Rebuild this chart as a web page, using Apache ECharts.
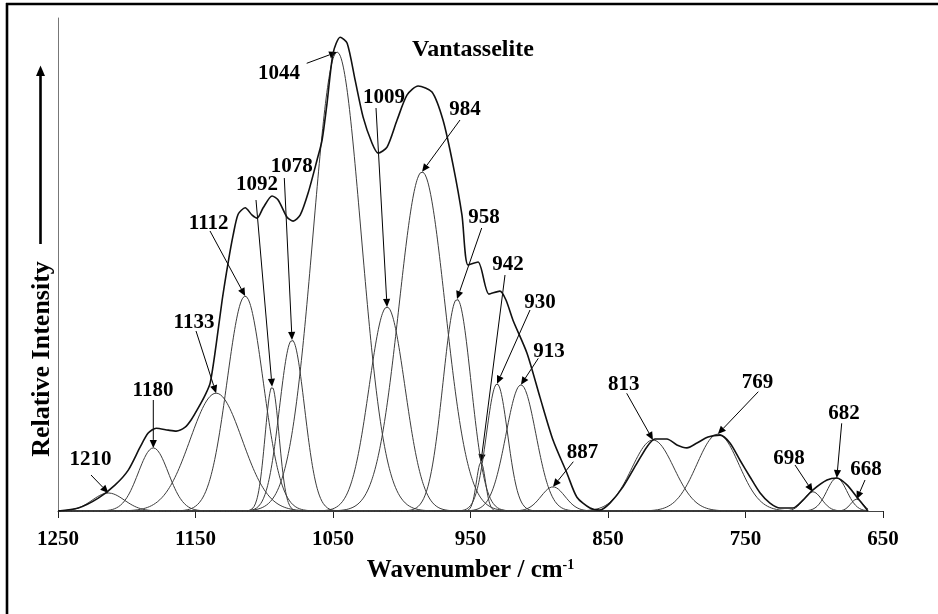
<!DOCTYPE html>
<html><head><meta charset="utf-8">
<script src="https://cdn.jsdelivr.net/npm/echarts@6/dist/echarts.min.js"></script>
<style>html,body{margin:0;padding:0;background:#fff}#c{width:938px;height:614px}</style>
</head><body><div id="c"></div>
<script>
// ---- DATA ----
const bandLabels  = ['1210','1180','1133','1112','1092','1078','1044','1009','984','958','942','930','913','887','813','769','698','682','668'];
const bandCenters = [1213.4,1180.7,1135.0,1113.9,1094.3,1079.8,1047.0,1010.7,985.2,959.8,942.4,930.7,913.3,890.0,817.3,770.1,701.1,683.6,669.1];
const bandHeights = [3.65,12.8,23.9,43.6,25.2,34.7,93.1,41.4,68.8,43.0,9.9,25.8,25.6,4.9,14.4,15.6,3.9,6.7,2.4];
const bandFwhm    = [27.4,25.7,44.5,30.8,12.0,21.4,41.0,30.8,39.4,24.0,7.7,18.1,25.7,20.5,36.0,36.0,15.4,17.1,10.3];

const spectrumWavenumbers = [1250,1235.2,1220.7,1208.4,1198.9,1190.2,1184.4,1178.6,1169.8,1164.0,1157.5,1153.1,1148.0,1143.0,1139.3,1135.0,1130.6,1126.2,1122.6,1119.0,1113.9,1108.8,1105.2,1100.8,1094.3,1089.9,1083.4,1079.0,1073.9,1068.1,1061.6,1057.9,1054.3,1049.9,1044.8,1039.7,1033.9,1028.1,1021.6,1017.2,1010.7,1003.4,996.1,988.1,978.0,970.0,962.7,956.2,951.8,944.5,936.6,928.6,924.2,919.1,908.9,899.5,890.0,879.9,872.6,863.1,855.9,848.6,839.1,828.9,821.7,815.9,807.1,799.9,792.6,785.3,777.3,768.5,761.3,754.0,746.7,739.5,732.2,724.9,715.5,708.2,700.9,690.7,683.5,676.2,668.9,660.9];
const spectrumIntensity   = [0,0.6,2.6,5.3,8.3,13.0,15.8,16.8,16.4,16.2,17.0,18.5,20.9,23.5,26.0,33.7,42.8,50.5,56.0,60.2,61.5,60.0,59.4,61.5,63.9,63.1,59.6,58.8,60.0,64.5,71.2,75.3,82.8,92.9,96.1,94.9,87.4,79.9,74.6,72.6,73.8,79.3,84.4,86.2,85.0,79.3,70.2,60.0,49.9,50.5,44.0,44.6,42.8,38.7,32.0,23.1,14.4,7.7,2.8,0.6,0.2,1.6,4.9,9.7,13.0,14.6,14.6,13.4,12.8,13.8,15.0,15.4,13.8,10.3,6.9,3.7,1.6,0.6,0.6,2.2,4.3,6.3,6.7,5.3,2.8,0];

const chartTitle = 'Vantasselite';
const xAxisTitle = 'Wavenumber / cm{sup|-1}';
const yAxisTitle = 'Relative Intensity';

// ---- LAYOUT (pixel positions of annotation texts and arrow tails) ----
const labelLayout = [
  [90.5,459.5, 91,475],[153,391, 153.3,400],[194,323, 196,331],[208.7,223.3, 210,231],
  [257,184.7, 256,200],[291.7,167, 284.3,178],[279,73.7, 306.7,63.3],[384,98, 376,108],
  [465,109.7, 460,120],[484,218, 481.7,228],[508,264.5, 505,275],[540,303, 530,310],
  [549,351.3, 538.3,358.3],[582.5,453, 573.3,461.7],[623.7,385, 626.7,393.3],[757.5,382.5, 758.3,391.7],
  [789,459, 795,465],[844,414, 841.7,423.3],[866,469.5, 865,480]
];

const serif = '"Liberation Serif","Times New Roman",serif';
const chart = echarts.init(document.getElementById('c'), null, {renderer:'canvas'});

function bandValue(i, w){
  const s = bandFwhm[i]/2.3548;
  const d = w - bandCenters[i];
  return bandHeights[i]*Math.exp(-d*d/(2*s*s));
}
const grid = [];
for (let w = 1250; w >= 661; w -= 0.5) grid.push(w);

const series = bandCenters.map((c,i)=>({
  type:'line', silent:true, showSymbol:false, symbol:'none', animation:false, z:2,
  lineStyle:{color:'#3c3c3c', width:1},
  data: grid.map(w=>[w, bandValue(i,w)])
}));
series.push({
  type:'line', silent:true, showSymbol:false, symbol:'none', animation:false, z:3, smooth:0.25,
  lineStyle:{color:'#111', width:1.6},
  data: spectrumWavenumbers.map((w,i)=>[w, spectrumIntensity[i]])
});

chart.setOption({
  animation:false,
  backgroundColor:'#fff',
  grid:{left:58, right:55, top:18, bottom:103, containLabel:false},
  xAxis:{
    type:'value', min:650, max:1250, interval:100, inverse:true,
    axisLine:{show:true, lineStyle:{color:'#444', width:1}},
    axisTick:{show:true, length:7, lineStyle:{color:'#222', width:1}},
    axisLabel:{color:'#000', fontFamily:serif, fontWeight:'bold', fontSize:21, margin:18,
      formatter:function(v){return String(v);}},
    splitLine:{show:false},
    name:xAxisTitle, nameLocation:'middle', nameGap:47,
    nameTextStyle:{color:'#000', fontFamily:serif, fontWeight:'bold', fontSize:25,
      rich:{sup:{color:'#000', fontFamily:serif, fontWeight:'bold', fontSize:14, verticalAlign:'top'}}}
  },
  yAxis:{
    type:'value', min:0, max:100,
    axisLine:{show:true, lineStyle:{color:'#777', width:1}},
    axisTick:{show:false}, axisLabel:{show:false}, splitLine:{show:false}
  },
  series
});

const g = [];
// frame
g.push({type:'line', shape:{x1:7, y1:3, x2:7, y2:614}, style:{stroke:'#000', lineWidth:2.6}});
g.push({type:'line', shape:{x1:6, y1:4, x2:938, y2:4}, style:{stroke:'#000', lineWidth:2.6}});
// y arrow + title
g.push({type:'line', shape:{x1:40.5, y1:244, x2:40.5, y2:72}, style:{stroke:'#000', lineWidth:2.6}});
g.push({type:'polygon', shape:{points:[[40.5,65.5],[36,76],[45,76]]}, style:{fill:'#000'}});
g.push({type:'text', x:42, y:359, rotation:Math.PI/2,
  style:{text:yAxisTitle, fill:'#000', font:'bold 26px '+serif, align:'center', verticalAlign:'middle', textAlign:'center', textVerticalAlign:'middle'}});
g.push({type:'text', x:412, y:49.5,
  style:{text:chartTitle, fill:'#000', font:'bold 24px '+serif, align:'left', verticalAlign:'middle', textAlign:'left', textVerticalAlign:'middle'}});

bandLabels.forEach((lab,i)=>{
  const L = labelLayout[i];
  const tip = chart.convertToPixel({xAxisIndex:0, yAxisIndex:0}, [bandCenters[i], bandHeights[i]]);
  g.push({type:'text', x:L[0], y:L[1],
    style:{text:lab, fill:'#000', font:'bold 21px '+serif, align:'center', verticalAlign:'middle', textAlign:'center', textVerticalAlign:'middle'}});
  const dx = tip[0]-L[2], dy = tip[1]-L[3];
  const len = Math.sqrt(dx*dx+dy*dy), ux = dx/len, uy = dy/len;
  const hl = 8, hw = 3.6;
  const bx = tip[0]-ux*hl, by = tip[1]-uy*hl;
  g.push({type:'line', shape:{x1:L[2], y1:L[3], x2:bx, y2:by}, style:{stroke:'#000', lineWidth:1}});
  g.push({type:'polygon', shape:{points:[[tip[0],tip[1]],[bx-uy*hw, by+ux*hw],[bx+uy*hw, by-ux*hw]]}, style:{fill:'#000'}});
});
chart.setOption({graphic:g});
</script></body></html>
